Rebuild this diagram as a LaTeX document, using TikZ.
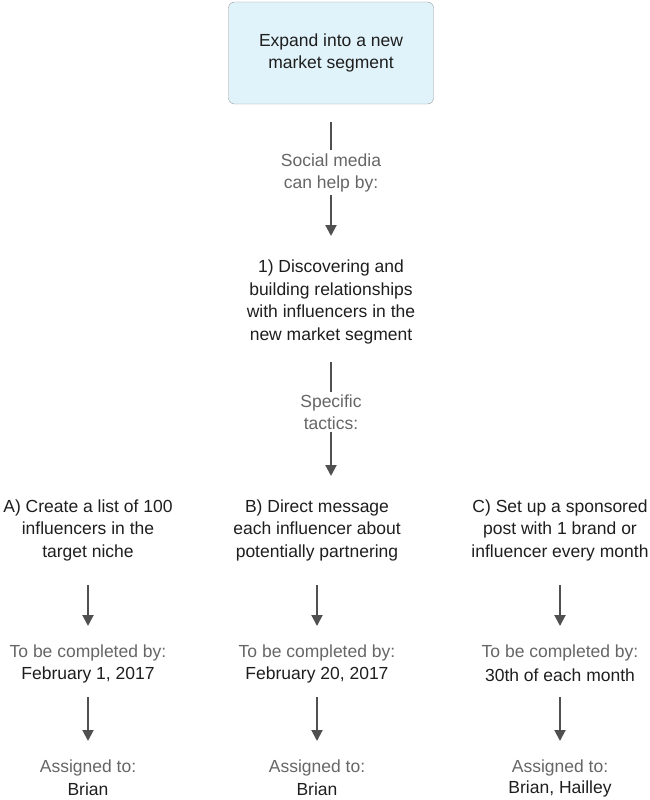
\documentclass[tikz,border=0pt]{standalone}
\usepackage{fontspec}
\setmainfont{Liberation Sans}
\usetikzlibrary{arrows.meta}
\definecolor{boxfill}{HTML}{E1F3FA}
\definecolor{boxline}{HTML}{9A9A9A}
\definecolor{linec}{HTML}{505050}
\definecolor{greyt}{HTML}{666666}
\definecolor{darkt}{HTML}{1E1E1E}
\begin{document}
\begin{tikzpicture}[x=1pt,y=-1pt,
  txt/.style={font=\fontsize{17.5}{22.5}\selectfont,text=darkt,align=center,inner sep=0},
  gtxt/.style={txt,text=greyt},
  arr/.style={draw=linec,line width=2pt,-{Triangle[length=11pt,width=11pt]}},
  plain/.style={draw=linec,line width=2pt}]
\useasboundingbox (0,0) rectangle (650,800);
\node[draw=boxline,fill=boxfill,rounded corners=6pt,minimum width=205pt,minimum height=102pt,txt] (top) at (331,53) {Expand into a new\\market segment};
\coordinate (t1) at (331,122);\coordinate (t2) at (331,150);
\draw[plain] (t1) -- (t2);
\node[gtxt] (sm) at (331,173) {Social media\\can help by:};
\coordinate (t3) at (331,195);\coordinate (t4) at (331,236);
\draw[arr] (t3) -- (t4);
\node[txt] (one) at (331,302) {1) Discovering and\\building relationships\\with influencers in the\\new market segment};
\coordinate (t5) at (331,362);\coordinate (t6) at (331,392);
\draw[plain] (t5) -- (t6);
\node[gtxt] (st) at (331,412) {Specific\\tactics:};
\coordinate (t7) at (331,432);\coordinate (t8) at (331,476);
\draw[arr] (t7) -- (t8);
\foreach \n/\x/\a/\d/\p in {A/88/{A) Create a list of 100\\influencers in the\\target niche}/{February 1, 2017}/{Brian},
  B/317/{B) Direct message\\each influencer about\\potentially partnering}/{February 20, 2017}/{Brian},
  C/560/{C) Set up a sponsored\\post with 1 brand or\\influencer every month}/{30th of each month}/{Brian, Hailley}}{
  \node[txt] (\n t) at (\x,530) {\a};
  \coordinate (\n1) at (\x,585);\coordinate (\n2) at (\x,626);
  \draw[arr] (\n1) -- (\n2);
  \node[gtxt] (\n c) at (\x,653) {To be completed by:};
  \node[txt] (\n d) at (\x,675) {\d};
  \coordinate (\n3) at (\x,697);\coordinate (\n4) at (\x,741);
  \draw[arr] (\n3) -- (\n4);
  \node[gtxt] (\n g) at (\x,768) {Assigned to:};
  \node[txt] (\n p) at (\x,789) {\p};
}
\end{tikzpicture}
\end{document}
